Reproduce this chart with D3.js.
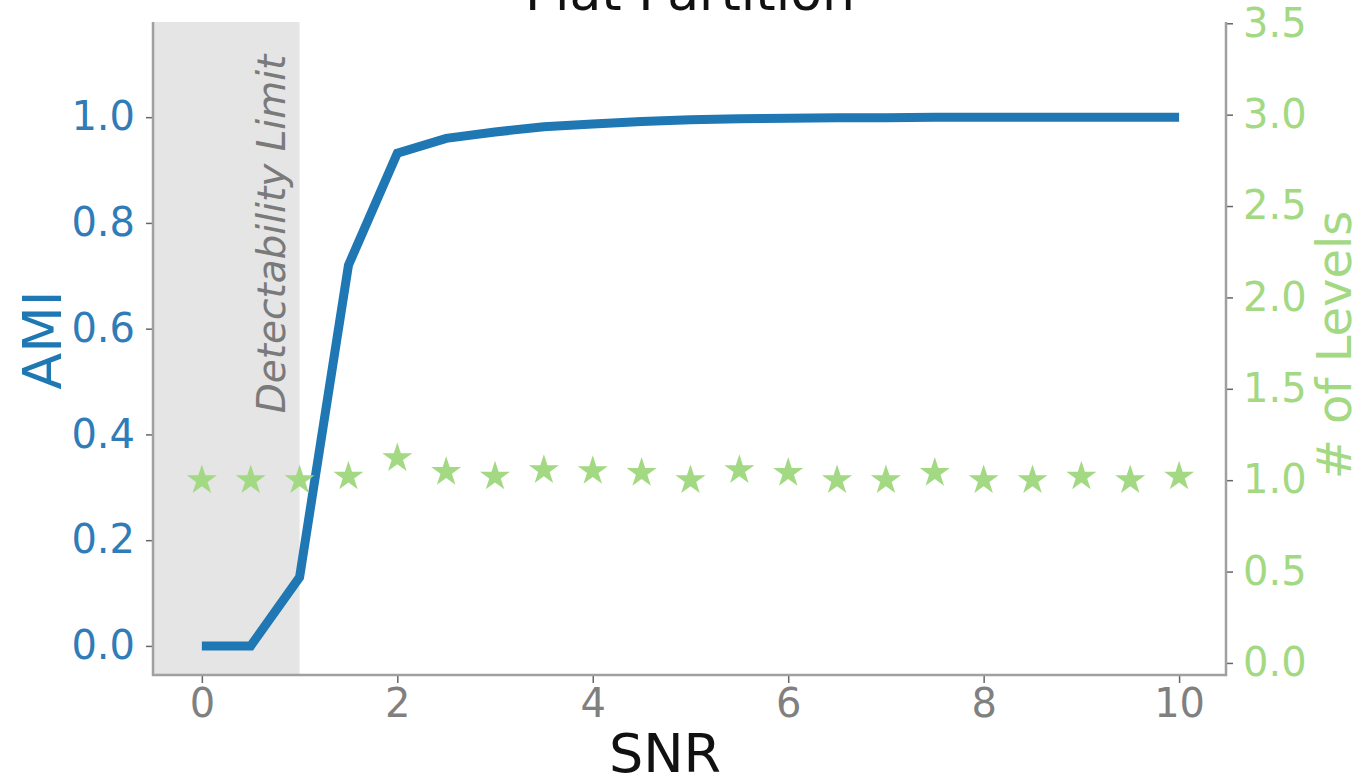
<!DOCTYPE html>
<html>
<head>
<meta charset="utf-8">
<script src="https://cdn.jsdelivr.net/npm/d3@7"></script>
<style>
  html, body { margin: 0; padding: 0; background: #fff; }
  svg { display: block; }
  svg text { font-family: 'DejaVu Sans', Verdana, sans-serif; }
</style>
</head>
<body>
<svg id="chart" width="1363" height="782"></svg>
<script>
// values
const snr = [0, 0.5, 1, 1.5, 2, 2.5, 3, 3.5, 4, 4.5, 5, 5.5, 6, 6.5, 7, 7.5, 8, 8.5, 9, 9.5, 10];
const ami = [0, 0, 0.13, 0.72, 0.932, 0.96, 0.972, 0.982, 0.987, 0.992, 0.995, 0.997, 0.998, 0.999, 0.999, 1, 1, 1, 1, 1, 1];
const levels = [1.0, 1.0, 1.0, 1.02, 1.12, 1.045, 1.02, 1.055, 1.05, 1.04, 1.0, 1.055, 1.04, 1.0, 1.0, 1.04, 1.0, 1.0, 1.02, 1.0, 1.02];
const xTicks = [0, 2, 4, 6, 8, 10];
const amiTicks = [0, 0.2, 0.4, 0.6, 0.8, 1.0];
const levelTicks = [0, 0.5, 1, 1.5, 2, 2.5, 3, 3.5];
const detectLimit = 1;

const blue = "#1f77b4";
const green = "#a2d982";
const spineColor = "#a0a0a0";

const svg = d3.select("#chart");
const m = { left: 153, right: 1226, top: 22, bottom: 675 };

const x = d3.scaleLinear().domain([-0.5, 10.48]).range([m.left, m.right]);
const yL = d3.scaleLinear().domain([-0.055, 1.18]).range([m.bottom, m.top]);
const yR = d3.scaleLinear().domain([-0.066, 3.507]).range([m.bottom, m.top]);

// shaded region below the detectability limit
svg.append("rect")
    .attr("x", m.left)
    .attr("y", m.top)
    .attr("width", x(detectLimit) - m.left)
    .attr("height", m.bottom - m.top)
    .attr("fill", "#e5e5e5");

svg.append("text")
    .attr("transform", `translate(${x(detectLimit) - 15},${234}) rotate(-90)`)
    .attr("text-anchor", "middle")
    .attr("font-size", 39)
    .attr("font-style", "italic")
    .attr("fill", "#7a7a7a")
    .text("Detectability Limit");

// axes
function styleAxis(g, color) {
    g.attr("font-family", null).attr("font-size", 40);
    g.select(".domain").remove();
    g.selectAll(".tick line").attr("stroke", "#666").attr("stroke-width", 1.5);
    g.selectAll(".tick text").attr("fill", color);
}

const xAxis = svg.append("g")
    .attr("transform", `translate(0,${m.bottom})`)
    .call(d3.axisBottom(x).tickValues(xTicks).tickFormat(d3.format("d")).tickSize(8).tickPadding(6));
styleAxis(xAxis, "#808080");

const lAxis = svg.append("g")
    .attr("transform", `translate(${m.left},0)`)
    .call(d3.axisLeft(yL).tickValues(amiTicks).tickFormat(d3.format(".1f")).tickSize(7).tickPadding(11));
styleAxis(lAxis, "#2f7cb8");

const rAxis = svg.append("g")
    .attr("transform", `translate(${m.right},0)`)
    .call(d3.axisRight(yR).tickValues(levelTicks).tickFormat(d3.format(".1f")).tickSize(7).tickPadding(10));
styleAxis(rAxis, green);

// spines (no top spine)
const spines = svg.append("g").attr("stroke", spineColor).attr("stroke-width", 2.5).attr("fill", "none");
spines.append("path").attr("d", `M${m.left},${m.top}V${m.bottom}H${m.right}V${m.top}`);

// AMI line
const line = d3.line().x((d, i) => x(snr[i])).y(d => yL(d));
svg.append("path")
    .datum(ami)
    .attr("d", line)
    .attr("fill", "none")
    .attr("stroke", blue)
    .attr("stroke-width", 9)
    .attr("stroke-linejoin", "miter");

// number of levels, star markers
svg.append("g")
    .selectAll("path")
    .data(levels)
    .join("path")
    .attr("transform", (d, i) => `translate(${x(snr[i])},${yR(d)})`)
    .attr("d", d3.symbol().type(d3.symbolStar).size(280))
    .attr("fill", green);

// labels
svg.append("text")
    .attr("x", 665)
    .attr("y", 772)
    .attr("text-anchor", "middle")
    .attr("font-size", 54)
    .attr("fill", "#111")
    .text("SNR");

svg.append("text")
    .attr("transform", `translate(61,340) rotate(-90)`)
    .attr("text-anchor", "middle")
    .attr("font-size", 54)
    .attr("fill", blue)
    .text("AMI");

svg.append("text")
    .attr("transform", `translate(1351,345) rotate(-90)`)
    .attr("text-anchor", "middle")
    .attr("font-size", 48)
    .attr("fill", green)
    .text("# of Levels");

svg.append("text")
    .attr("x", 690)
    .attr("y", 10)
    .attr("text-anchor", "middle")
    .attr("font-size", 52)
    .attr("fill", "#111")
    .text("Flat Partition");
</script>
</body>
</html>
